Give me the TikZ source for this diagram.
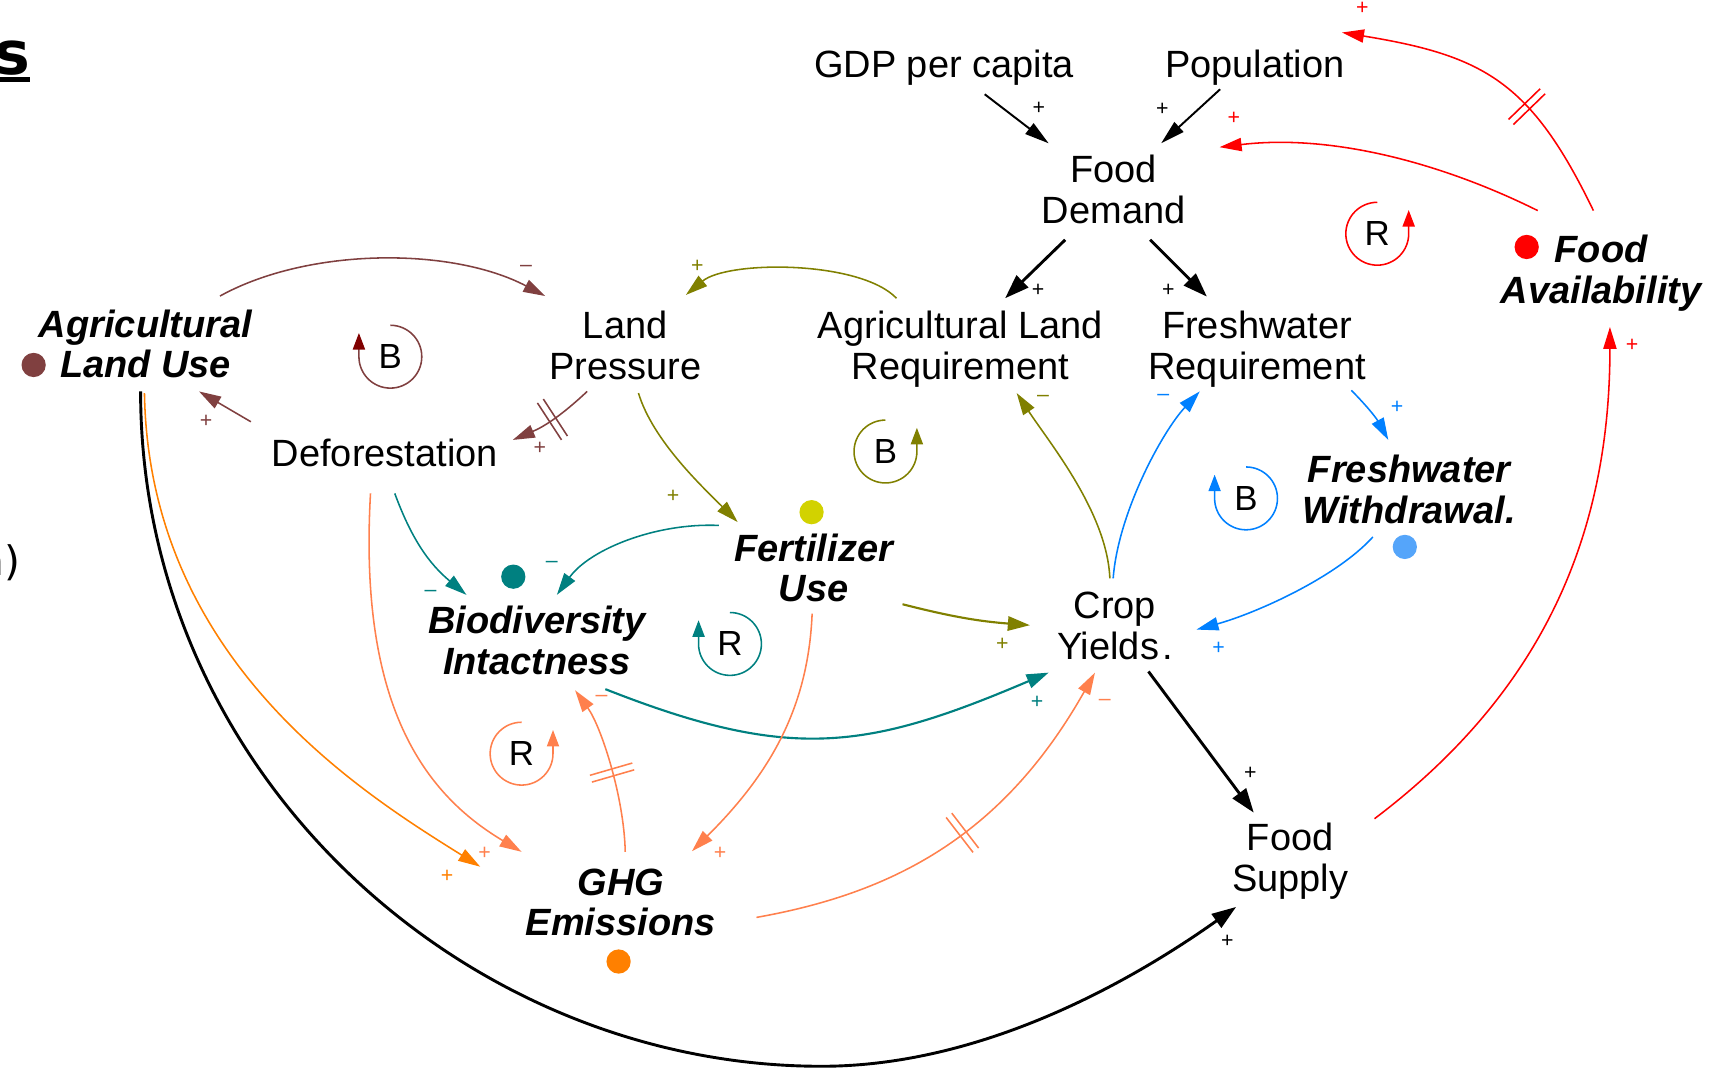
\documentclass[tikz,border=0pt]{standalone}
\usepackage{fontspec}
\setmainfont{Liberation Sans}
\newfontfamily\slidefont{DejaVu Sans}
\usetikzlibrary{arrows.meta, calc, positioning}

\definecolor{cldbrown}{RGB}{128,64,64}
\definecolor{cldmaroon}{RGB}{128,0,0}
\definecolor{cldolive}{RGB}{128,128,0}
\definecolor{cldyellow}{RGB}{210,210,0}
\definecolor{cldteal}{RGB}{0,128,128}
\definecolor{cldblue}{RGB}{0,128,255}
\definecolor{cldsky}{RGB}{85,165,250}
\definecolor{cldred}{RGB}{255,0,0}
\definecolor{cldorange}{RGB}{255,128,0}
\definecolor{cldcoral}{RGB}{255,128,77}

\newcommand{\delaymark}{\rule[-2mm]{0.4pt}{4mm}\hspace{0.5mm}\rule[-2mm]{0.4pt}{4mm}}

\begin{document}
\begin{tikzpicture}[
        var/.style={align=center, inner sep=0pt, font=\fontsize{9.8}{10.5}\selectfont},
        keyvar/.style={var, font=\fontsize{9.8}{10.5}\selectfont\bfseries\itshape},
        dot/.style={circle, inner sep=0pt, minimum size=2.2mm},
        loopmark/.style={inner sep=0pt, font=\fontsize{9}{10}\selectfont},
        looparc/.style={line width=0.4pt, -{Triangle[length=1.5mm, width=1.1mm]}},
        pol/.style={inner sep=0pt, font=\fontsize{5.5}{6}\selectfont},
        delay/.style={sloped, inner sep=0pt},
        link/.style={line width=0.4pt, -{Triangle[length=2mm, width=1.2mm]}},
        thicklink/.style={line width=0.55pt, -{Triangle[length=2mm, width=1.3mm]}},
        blacklink/.style={line width=0.5pt, -{Triangle[length=2.2mm, width=1.2mm]}},
        mainlink/.style={line width=0.75pt, -{Triangle[length=2.2mm, width=1.5mm]}}
    ]
    \useasboundingbox (0,0) rectangle (15.68,9.71);

    % cut-off slide text
    \node[anchor=base east, inner sep=0pt, font=\slidefont\fontsize{15.5}{16}\selectfont\bfseries] (title) at (0.28,9.03) {s\llap{\rule[-1.75pt]{4mm}{1.15pt}}};
    \node[anchor=base east, inner sep=0pt, font=\slidefont\fontsize{10.5}{12}\selectfont] (subtitle) at (0.19,4.49) {n)};

    % variables
    \node[var] (gdp) at (8.56,9.10) {GDP per capita};
    \node[var] (pop) at (11.38,9.10) {Population};
    \node[var] (fd) at (10.10,7.99) {Food\\Demand};
    \node[var] (lp) at (5.67,6.575) {Land\\Pressure};
    \node[var] (alr) at (8.71,6.545) {Agricultural Land\\Requirement};
    \node[var] (fr) at (11.40,6.545) {Freshwater\\Requirement};
    \node[var] (def) at (3.49,5.605) {Deforestation};
    \node[var] (crop) at (10.11,4.035) {Crop\\Yields\kern0.08em.};
    \node[var] (fs) at (11.70,1.90) {Food\\Supply};
    \node[keyvar] (alu) at (1.32,6.59) {Agricultural\\Land Use};
    \node[keyvar] (fa) at (14.52,7.23) {Food\\Availability};
    \node[keyvar] (fw) at (12.78,5.27) {Freshwater\\Withdrawal.};
    \node[keyvar] (fert) at (7.38,4.56) {Fertilizer\\Use};
    \node[keyvar] (bio) at (4.87,3.90) {Biodiversity\\Intactness};
    \node[keyvar] (ghg) at (5.63,1.525) {GHG\\Emissions};

    % indicator dots
    \node[dot, fill=cldbrown] (alu-dot) at (0.305,6.40) {};
    \node[dot, fill=cldred] (fa-dot) at (13.845,7.47) {};
    \node[dot, fill=cldsky] (fw-dot) at (12.74,4.75) {};
    \node[dot, fill=cldyellow] (fert-dot) at (7.36,5.065) {};
    \node[dot, fill=cldteal] (bio-dot) at (4.655,4.48) {};
    \node[dot, fill=cldorange] (ghg-dot) at (5.61,0.99) {};

    % loop markers
    \node[loopmark] (bLand) at (3.54,6.475) {B};
    \node[loopmark] (bFert) at (8.03,5.615) {B};
    \node[loopmark] (rFood) at (12.49,7.59) {R};
    \node[loopmark] (bWater) at (11.30,5.19) {B};
    \node[loopmark] (rBio) at (6.62,3.87) {R};
    \node[loopmark] (rGhg) at (4.73,2.875) {R};

    \draw[looparc, cldbrown, -{Triangle[length=1.5mm, width=1.1mm, color=cldmaroon]}] ($(bLand)+(0,0.285)$) arc[start angle=90, end angle=-180, radius=0.285] -- ++(0,0.215);
    \draw[looparc, cldolive] ($(bFert)+(0,0.285)$) arc[start angle=90, end angle=360, radius=0.285] -- ++(0,0.215);
    \draw[looparc, cldred] ($(rFood)+(0,0.285)$) arc[start angle=90, end angle=360, radius=0.285] -- ++(0,0.215);
    \draw[looparc, cldblue] ($(bWater)+(0,0.285)$) arc[start angle=90, end angle=-180, radius=0.285] -- ++(0,0.215);
    \draw[looparc, cldteal] ($(rBio)+(0,0.285)$) arc[start angle=90, end angle=-180, radius=0.285] -- ++(0,0.215);
    \draw[looparc, cldcoral] ($(rGhg)+(0,0.285)$) arc[start angle=90, end angle=360, radius=0.285] -- ++(0,0.215);

    % black links
    \coordinate (arcbottom) at (7.45,0.04);
    \draw[blacklink] ($(gdp)+(0.37,-0.245)$) -- ($(fd)+(-0.59,0.42)$) node[pol, pos=1, shift={(-0.09,0.32)}] {+};
    \draw[blacklink] ($(pop)+(-0.315,-0.20)$) -- ($(fd)+(0.43,0.42)$) node[pol, pos=1, shift={(0.01,0.31)}] {+};
    \draw[mainlink] ($(fd)+(-0.44,-0.455)$) -- ($(alr)+(0.405,0.46)$) node[pol, pos=1, shift={(0.30,0.07)}] {+};
    \draw[mainlink] ($(fd)+(0.33,-0.455)$) -- ($(fr)+(-0.455,0.475)$) node[pol, pos=1, shift={(-0.35,0.055)}] {+};
    \draw[mainlink] ($(crop)+(0.305,-0.415)$) -- ($(fs)+(-0.33,0.44)$) node[pol, pos=1, shift={(-0.03,0.355)}] {+};
    \draw[mainlink] ($(alu)+(-0.045,-0.43)$) .. controls +(0,-3.45) and +(-3.25,0) .. (arcbottom) .. controls +(1.55,0) and +(-0.81,-0.575) .. ($(fs)+(-0.49,-0.415)$) node[pol, pos=1, shift={(-0.08,-0.31)}] {+};

    % food availability (red)
    \draw[link, cldred] ($(fa)+(-0.575,0.57)$) .. controls +(-0.895,0.445) and +(0.995,0.12) .. ($(fd)+(0.96,0.385)$) node[pol, pos=1, shift={(0.13,0.265)}] {+};
    \draw[link, cldred] ($(fa)+(-0.07,0.57)$) .. controls +(-0.565,1.17) and +(1.285,-0.21) .. ($(pop)+(0.79,0.315)$) node[delay, pos=0.36] {\delaymark} node[pol, pos=1, shift={(0.185,0.22)}] {+};
    \draw[link, cldred] ($(fs)+(0.765,0.385)$) .. controls +(1.435,1.085) and +(0,-2.0) .. ($(fa)+(0.08,-0.485)$) node[pol, pos=1, shift={(0.20,-0.17)}] {+};

    % land use (brown)
    \draw[link, cldbrown] ($(alu)+(0.675,0.435)$) .. controls +(0.805,0.445) and +(-0.845,0.445) .. ($(lp)+(-0.725,0.45)$) node[pol, pos=1, shift={(-0.175,0.25)}] {--};
    \draw[link, cldbrown] ($(lp)+(-0.345,-0.415)$) to[bend left=10] node[delay, pos=0.5] {\delaymark} node[pol, pos=1, shift={(0.245,-0.075)}] {+} ($(def)+(1.16,0.115)$);
    \draw[link, cldbrown] ($(def)+(-1.215,0.28)$) -- ($(alu)+(0.485,-0.43)$) node[pol, pos=1, shift={(0.065,-0.27)}] {+};

    % fertilizer / land requirement (olive)
    \draw[link, cldolive] ($(alr)+(-0.58,0.46)$) .. controls +(-0.33,0.345) and +(0.38,0.315) .. ($(lp)+(0.55,0.46)$) node[pol, pos=1, shift={(0.105,0.26)}] {+};
    \draw[link, cldolive] ($(lp)+(0.12,-0.43)$) .. controls +(0.13,-0.43) and +(-0.32,0.32) .. ($(fert)+(-0.69,0.415)$) node[pol, pos=1, shift={(-0.585,0.235)}] {+};
    \draw[thicklink, cldolive] ($(fert)+(0.805,-0.33)$) to[bend right=5] node[pol, pos=1, shift={(-0.25,-0.17)}] {+} ($(crop)+(-0.77,0.005)$);
    \draw[link, cldolive] ($(crop)+(-0.045,0.43)$) .. controls +(-0.025,0.595) and +(0.30,-0.455) .. ($(alr)+(0.51,-0.40)$) node[pol, pos=1, shift={(0.24,-0.05)}] {--};

    % water (blue)
    \draw[link, cldblue] ($(crop)+(-0.015,0.43)$) .. controls +(0.045,0.595) and +(-0.34,-0.365) .. ($(fr)+(-0.52,-0.385)$) node[pol, pos=1, shift={(-0.33,-0.05)}] {--};
    \draw[link, cldblue] ($(fr)+(0.855,-0.375)$) to[bend left=8] node[pol, pos=1, shift={(0.08,0.30)}] {+} ($(fw)+(-0.19,0.45)$);
    \draw[link, cldblue] ($(fw)+(-0.33,-0.43)$) .. controls +(-0.335,-0.37) and +(0.53,0.145) .. ($(crop)+(0.74,-0.035)$) node[pol, pos=1, shift={(0.20,-0.17)}] {+};

    % biodiversity (teal)
    \draw[link, cldteal] ($(def)+(0.09,-0.37)$) to[bend right=15] node[pol, pos=1, shift={(-0.325,0.01)}] {--} ($(bio)+(-0.64,0.415)$);
    \draw[link, cldteal] ($(fert)+(-0.86,0.385)$) .. controls +(-0.57,0.025) and +(0.30,0.415) .. ($(bio)+(0.18,0.415)$) node[pol, pos=1, shift={(-0.045,0.28)}] {--};
    \draw[thicklink, cldteal] ($(bio)+(0.62,-0.44)$) .. controls +(1.675,-0.66) and +(-1.655,-0.705) .. ($(crop)+(-0.60,-0.425)$) node[pol, pos=1, shift={(-0.105,-0.27)}] {+};

    % emissions (orange)
    \draw[link, cldcoral] ($(def)+(-0.13,-0.37)$) .. controls +(-0.11,-1.925) and +(-0.88,0.525) .. ($(ghg)+(-0.90,0.46)$) node[pol, pos=1, shift={(-0.335,-0.015)}] {+};
    \draw[link, cldorange] ($(alu)+(-0.01,-0.445)$) .. controls +(0.04,-2.435) and +(-1.055,0.66) .. ($(ghg)+(-1.275,0.325)$) node[pol, pos=1, shift={(-0.30,-0.085)}] {+};
    \draw[link, cldcoral] ($(fert)+(-0.015,-0.415)$) .. controls +(-0.035,-0.835) and +(0.725,0.72) .. ($(ghg)+(0.645,0.465)$) node[pol, pos=1, shift={(0.255,-0.02)}] {+};
    \draw[link, cldcoral] ($(ghg)+(0.04,0.46)$) .. controls +(-0.01,0.50) and +(0.235,-0.325) .. ($(bio)+(0.345,-0.45)$) node[delay, pos=0.45] {\delaymark} node[pol, pos=1, shift={(0.24,-0.075)}] {--};
    \draw[link, cldcoral] ($(ghg)+(1.23,-0.135)$) .. controls +(1.24,0.22) and +(-0.835,-1.48) .. ($(crop)+(-0.18,-0.425)$) node[delay, pos=0.56] {\delaymark} node[pol, pos=1, shift={(0.09,-0.27)}] {--};
\end{tikzpicture}
\end{document}
